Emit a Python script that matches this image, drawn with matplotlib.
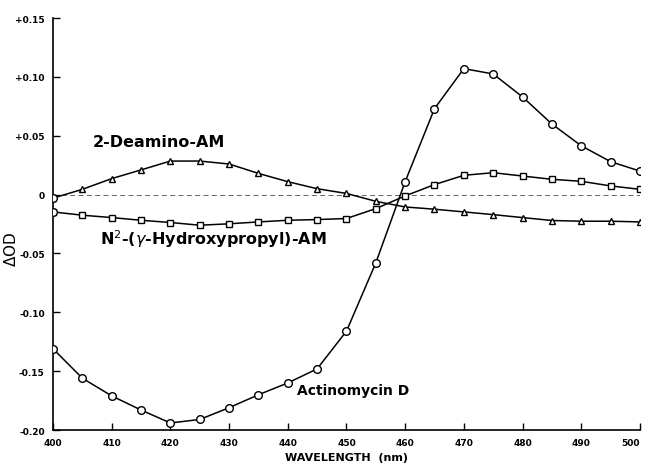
import matplotlib.pyplot as plt
import numpy as np

wavelength = [400, 405, 410, 415, 420, 425, 430, 435, 440, 445, 450,
              455, 460, 465, 470, 475, 480, 485, 490, 495, 500]

actinomycin_d = [-0.131, -0.156, -0.171, -0.183, -0.194, -0.191, -0.181, -0.170,
                 -0.160, -0.148, -0.116, -0.058, 0.011, 0.073, 0.107, 0.1025,
                 0.083, 0.060, 0.0415, 0.028, 0.020]

deamino_am = [-0.003, 0.0045, 0.0136, 0.021, 0.0285, 0.0285, 0.026, 0.018,
              0.011, 0.005, 0.001, -0.0057, -0.0105, -0.0124, -0.0147, -0.017,
              -0.0195, -0.022, -0.0226, -0.0226, -0.0232]

hydroxypropyl_am = [-0.0147, -0.0175, -0.0195, -0.0218, -0.0237, -0.026, -0.0248,
                    -0.0232, -0.0218, -0.0212, -0.0203, -0.0119, -0.0011, 0.0085,
                    0.0164, 0.0186, 0.0158, 0.013, 0.0113, 0.0074, 0.0045]

x_ticks = [400, 410, 420, 430, 440, 450, 460, 470, 480, 490, 500]
y_ticks = [-0.20, -0.15, -0.10, -0.05, 0, 0.05, 0.10, 0.15]
y_labels = ['-0.20', '-0.15', '-0.10', '-0.05', '0', '+0.05', '+0.10', '+0.15']

fig = plt.figure(figsize=(6.47, 4.64), dpi=100)
ax = fig.add_axes([0.082, 0.071, 0.907, 0.888])

# zero line, faint dashed
ax.axhline(0, color='k', lw=0.6, ls=(0, (6, 4)), alpha=0.7, zorder=1)

style = dict(color='k', lw=1.1, mfc='white', mec='k', mew=1.0, zorder=3)
ax.plot(wavelength, actinomycin_d, marker='o', ms=5.5, **style)
ax.plot(wavelength, deamino_am, marker='^', ms=5, **style)
ax.plot(wavelength, hydroxypropyl_am, marker='s', ms=4.8, **style)
# first points drawn as circles
for series in (deamino_am, hydroxypropyl_am):
    ax.plot(wavelength[0], series[0], marker='o', ms=5.5, ls='none',
            mfc='white', mec='k', mew=1.0, zorder=4)

ax.set_xlim(400, 500)
ax.set_ylim(-0.20, 0.15)
ax.set_xticks(x_ticks)
ax.set_yticks(y_ticks)
ax.set_yticklabels(y_labels)
ax.tick_params(direction='in', length=5, width=1, labelsize=6.5, pad=6)
for lab in ax.get_xticklabels() + ax.get_yticklabels():
    lab.set_fontweight('bold')
ax.get_xticklabels()[-1].set_horizontalalignment('right')

ax.spines['top'].set_visible(False)
ax.spines['right'].set_visible(False)
ax.spines['left'].set_linewidth(1.2)
ax.spines['bottom'].set_linewidth(1.2)

ax.set_xlabel('WAVELENGTH  (nm)', fontsize=8, fontweight='bold', labelpad=3)
ax.set_ylabel(r'$\Delta$OD', fontsize=11)
ax.yaxis.set_label_coords(-0.058, 0.44)

ax.text(406.8, 0.0455, '2-Deamino-AM', fontsize=11.5, fontweight='bold', va='center')
ax.text(408, -0.037, r'N$^2$-($\gamma$-Hydroxypropyl)-AM', fontsize=11.5,
        fontweight='bold', va='center')
ax.text(441.5, -0.166, 'Actinomycin D', fontsize=10, fontweight='bold', va='center')

fig.savefig('out.png', dpi=100)
